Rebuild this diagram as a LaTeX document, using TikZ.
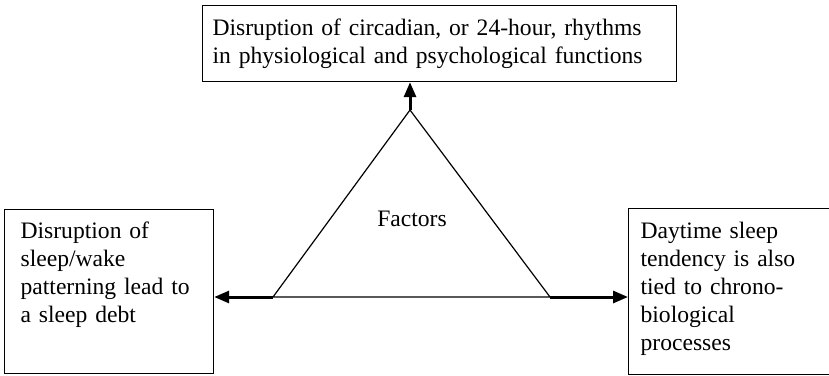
\documentclass[tikz,border=0pt]{standalone}
\usepackage{fontspec}
\setmainfont{Liberation Serif}
\usepackage{tikz}
\usetikzlibrary{arrows.meta, positioning}
\tikzset{
    fbox/.style={rectangle, draw, line width=0.6pt, anchor=north west, inner ysep=0pt, align=left, font=\fontsize{11.8}{14}\selectfont},
    flow/.style={line width=1.5pt, -{Triangle[length=7.5pt, width=6pt]}},
    tri/.style={line width=0.6pt, line join=miter},
}

\begin{document}
\begin{tikzpicture}[x=0.5pt, y=-0.5pt]
    \useasboundingbox (0,0) rectangle (829,375);
    \node[fbox, inner xsep=5pt, text width=227pt, text height=15pt, text depth=23pt] (circadian) at (202,5)
        {Disruption of circadian, or 24-hour, rhythms\\in physiological and psychological functions};
    \node[fbox, inner xsep=8pt, text width=88.5pt, text height=14.5pt, text depth=67.5pt] (sleepdebt) at (4,209)
        {Disruption of\\sleep/wake\\patterning lead to\\a sleep debt};
    \node[fbox, inner xsep=6pt, text width=95pt, text height=15pt, text depth=68pt] (daytime) at (628,208)
        {Daytime sleep\\tendency is also\\tied to chrono-\\biological\\processes};
    \coordinate (apex) at (410,110);
    \coordinate (baseL) at (273,297);
    \coordinate (baseR) at (550,297);
    \draw[tri] (apex) -- (baseL) -- (baseR) -- cycle;
    \node[font=\fontsize{11.8}{14}\selectfont] (factors) at (412,219) {Factors};
    \draw[flow] (apex) -- (apex |- circadian.south);
    \draw[flow] (baseL) -- (baseL -| sleepdebt.east);
    \draw[flow] (baseR) -- (baseR -| daytime.west);
\end{tikzpicture}
\end{document}
